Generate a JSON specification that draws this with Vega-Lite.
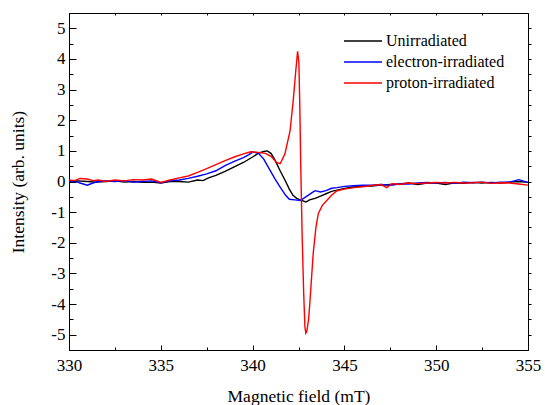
{
  "$schema": "https://vega.github.io/schema/vega-lite/v6.json",
  "width": 459,
  "height": 337,
  "autosize": {"type": "none"},
  "padding": {"left": 69, "top": 13, "right": 17, "bottom": 55},
  "config": {
    "view": {"stroke": "black", "strokeWidth": 1},
    "font": "Liberation Serif",
    "axis": {
      "labelFont": "Liberation Serif", "titleFont": "Liberation Serif",
      "labelFontSize": 17, "titleFontSize": 17.5, "titleFontWeight": "normal",
      "labelColor": "black", "titleColor": "black", "tickColor": "black", "domainColor": "black",
      "grid": false, "labelFlush": false, "labelOverlap": false, "tickWidth": 1
    }
  },
  "datasets": {
    "spec": [
      {"field": 330.0, "intensity": 0.0, "sample": "Unirradiated"},
      {"field": 330.5, "intensity": 0.02, "sample": "Unirradiated"},
      {"field": 331.0, "intensity": 0.0, "sample": "Unirradiated"},
      {"field": 331.5, "intensity": -0.02, "sample": "Unirradiated"},
      {"field": 332.0, "intensity": 0.0, "sample": "Unirradiated"},
      {"field": 332.5, "intensity": 0.02, "sample": "Unirradiated"},
      {"field": 333.0, "intensity": -0.02, "sample": "Unirradiated"},
      {"field": 333.5, "intensity": 0.0, "sample": "Unirradiated"},
      {"field": 334.0, "intensity": -0.03, "sample": "Unirradiated"},
      {"field": 334.5, "intensity": -0.02, "sample": "Unirradiated"},
      {"field": 335.0, "intensity": -0.05, "sample": "Unirradiated"},
      {"field": 335.5, "intensity": 0.0, "sample": "Unirradiated"},
      {"field": 336.0, "intensity": 0.0, "sample": "Unirradiated"},
      {"field": 336.5, "intensity": -0.02, "sample": "Unirradiated"},
      {"field": 337.0, "intensity": 0.05, "sample": "Unirradiated"},
      {"field": 337.3, "intensity": 0.03, "sample": "Unirradiated"},
      {"field": 337.6, "intensity": 0.12, "sample": "Unirradiated"},
      {"field": 338.0, "intensity": 0.2, "sample": "Unirradiated"},
      {"field": 338.5, "intensity": 0.33, "sample": "Unirradiated"},
      {"field": 339.0, "intensity": 0.48, "sample": "Unirradiated"},
      {"field": 339.5, "intensity": 0.62, "sample": "Unirradiated"},
      {"field": 340.0, "intensity": 0.8, "sample": "Unirradiated"},
      {"field": 340.3, "intensity": 0.92, "sample": "Unirradiated"},
      {"field": 340.6, "intensity": 0.98, "sample": "Unirradiated"},
      {"field": 340.8, "intensity": 1.0, "sample": "Unirradiated"},
      {"field": 341.0, "intensity": 0.92, "sample": "Unirradiated"},
      {"field": 341.2, "intensity": 0.72, "sample": "Unirradiated"},
      {"field": 341.5, "intensity": 0.35, "sample": "Unirradiated"},
      {"field": 341.8, "intensity": 0.0, "sample": "Unirradiated"},
      {"field": 342.0, "intensity": -0.25, "sample": "Unirradiated"},
      {"field": 342.2, "intensity": -0.45, "sample": "Unirradiated"},
      {"field": 342.4, "intensity": -0.55, "sample": "Unirradiated"},
      {"field": 342.6, "intensity": -0.6, "sample": "Unirradiated"},
      {"field": 342.9, "intensity": -0.67, "sample": "Unirradiated"},
      {"field": 343.1, "intensity": -0.6, "sample": "Unirradiated"},
      {"field": 343.4, "intensity": -0.55, "sample": "Unirradiated"},
      {"field": 343.7, "intensity": -0.48, "sample": "Unirradiated"},
      {"field": 344.0, "intensity": -0.4, "sample": "Unirradiated"},
      {"field": 344.3, "intensity": -0.32, "sample": "Unirradiated"},
      {"field": 344.6, "intensity": -0.28, "sample": "Unirradiated"},
      {"field": 345.0, "intensity": -0.23, "sample": "Unirradiated"},
      {"field": 345.5, "intensity": -0.18, "sample": "Unirradiated"},
      {"field": 346.0, "intensity": -0.15, "sample": "Unirradiated"},
      {"field": 346.5, "intensity": -0.15, "sample": "Unirradiated"},
      {"field": 347.0, "intensity": -0.12, "sample": "Unirradiated"},
      {"field": 347.5, "intensity": -0.1, "sample": "Unirradiated"},
      {"field": 348.0, "intensity": -0.08, "sample": "Unirradiated"},
      {"field": 348.5, "intensity": -0.05, "sample": "Unirradiated"},
      {"field": 349.0, "intensity": -0.1, "sample": "Unirradiated"},
      {"field": 349.5, "intensity": -0.05, "sample": "Unirradiated"},
      {"field": 350.0, "intensity": -0.05, "sample": "Unirradiated"},
      {"field": 350.5, "intensity": -0.1, "sample": "Unirradiated"},
      {"field": 351.0, "intensity": -0.04, "sample": "Unirradiated"},
      {"field": 351.5, "intensity": -0.06, "sample": "Unirradiated"},
      {"field": 352.0, "intensity": -0.03, "sample": "Unirradiated"},
      {"field": 352.5, "intensity": -0.05, "sample": "Unirradiated"},
      {"field": 353.0, "intensity": -0.03, "sample": "Unirradiated"},
      {"field": 353.5, "intensity": -0.05, "sample": "Unirradiated"},
      {"field": 354.0, "intensity": -0.02, "sample": "Unirradiated"},
      {"field": 354.5, "intensity": 0.0, "sample": "Unirradiated"},
      {"field": 355.0, "intensity": -0.03, "sample": "Unirradiated"},

      {"field": 330.0, "intensity": 0.0, "sample": "electron-irradiated"},
      {"field": 330.3, "intensity": 0.02, "sample": "electron-irradiated"},
      {"field": 330.6, "intensity": -0.05, "sample": "electron-irradiated"},
      {"field": 331.0, "intensity": -0.12, "sample": "electron-irradiated"},
      {"field": 331.3, "intensity": -0.05, "sample": "electron-irradiated"},
      {"field": 331.6, "intensity": 0.0, "sample": "electron-irradiated"},
      {"field": 332.0, "intensity": 0.02, "sample": "electron-irradiated"},
      {"field": 332.5, "intensity": 0.0, "sample": "electron-irradiated"},
      {"field": 333.0, "intensity": 0.03, "sample": "electron-irradiated"},
      {"field": 333.5, "intensity": -0.02, "sample": "electron-irradiated"},
      {"field": 334.0, "intensity": 0.0, "sample": "electron-irradiated"},
      {"field": 334.5, "intensity": 0.02, "sample": "electron-irradiated"},
      {"field": 335.0, "intensity": -0.04, "sample": "electron-irradiated"},
      {"field": 335.5, "intensity": 0.02, "sample": "electron-irradiated"},
      {"field": 336.0, "intensity": 0.05, "sample": "electron-irradiated"},
      {"field": 336.5, "intensity": 0.1, "sample": "electron-irradiated"},
      {"field": 337.0, "intensity": 0.17, "sample": "electron-irradiated"},
      {"field": 337.5, "intensity": 0.25, "sample": "electron-irradiated"},
      {"field": 338.0, "intensity": 0.35, "sample": "electron-irradiated"},
      {"field": 338.5, "intensity": 0.52, "sample": "electron-irradiated"},
      {"field": 339.0, "intensity": 0.66, "sample": "electron-irradiated"},
      {"field": 339.5, "intensity": 0.78, "sample": "electron-irradiated"},
      {"field": 339.8, "intensity": 0.88, "sample": "electron-irradiated"},
      {"field": 340.0, "intensity": 0.96, "sample": "electron-irradiated"},
      {"field": 340.3, "intensity": 0.93, "sample": "electron-irradiated"},
      {"field": 340.6, "intensity": 0.74, "sample": "electron-irradiated"},
      {"field": 340.9, "intensity": 0.42, "sample": "electron-irradiated"},
      {"field": 341.2, "intensity": 0.1, "sample": "electron-irradiated"},
      {"field": 341.5, "intensity": -0.18, "sample": "electron-irradiated"},
      {"field": 341.8, "intensity": -0.45, "sample": "electron-irradiated"},
      {"field": 342.0, "intensity": -0.58, "sample": "electron-irradiated"},
      {"field": 342.3, "intensity": -0.6, "sample": "electron-irradiated"},
      {"field": 342.6, "intensity": -0.62, "sample": "electron-irradiated"},
      {"field": 342.9, "intensity": -0.5, "sample": "electron-irradiated"},
      {"field": 343.2, "intensity": -0.38, "sample": "electron-irradiated"},
      {"field": 343.4, "intensity": -0.3, "sample": "electron-irradiated"},
      {"field": 343.7, "intensity": -0.34, "sample": "electron-irradiated"},
      {"field": 344.0, "intensity": -0.3, "sample": "electron-irradiated"},
      {"field": 344.3, "intensity": -0.22, "sample": "electron-irradiated"},
      {"field": 344.6, "intensity": -0.2, "sample": "electron-irradiated"},
      {"field": 345.0, "intensity": -0.16, "sample": "electron-irradiated"},
      {"field": 345.5, "intensity": -0.14, "sample": "electron-irradiated"},
      {"field": 346.0, "intensity": -0.12, "sample": "electron-irradiated"},
      {"field": 346.5, "intensity": -0.12, "sample": "electron-irradiated"},
      {"field": 347.0, "intensity": -0.1, "sample": "electron-irradiated"},
      {"field": 347.5, "intensity": -0.12, "sample": "electron-irradiated"},
      {"field": 348.0, "intensity": -0.08, "sample": "electron-irradiated"},
      {"field": 348.5, "intensity": -0.08, "sample": "electron-irradiated"},
      {"field": 349.0, "intensity": -0.05, "sample": "electron-irradiated"},
      {"field": 349.5, "intensity": -0.03, "sample": "electron-irradiated"},
      {"field": 350.0, "intensity": -0.05, "sample": "electron-irradiated"},
      {"field": 350.5, "intensity": -0.03, "sample": "electron-irradiated"},
      {"field": 351.0, "intensity": -0.06, "sample": "electron-irradiated"},
      {"field": 351.5, "intensity": -0.02, "sample": "electron-irradiated"},
      {"field": 352.0, "intensity": -0.04, "sample": "electron-irradiated"},
      {"field": 352.5, "intensity": -0.02, "sample": "electron-irradiated"},
      {"field": 353.0, "intensity": -0.05, "sample": "electron-irradiated"},
      {"field": 353.5, "intensity": -0.02, "sample": "electron-irradiated"},
      {"field": 354.0, "intensity": -0.02, "sample": "electron-irradiated"},
      {"field": 354.5, "intensity": 0.06, "sample": "electron-irradiated"},
      {"field": 355.0, "intensity": -0.03, "sample": "electron-irradiated"},

      {"field": 330.0, "intensity": 0.05, "sample": "proton-irradiated"},
      {"field": 330.3, "intensity": 0.03, "sample": "proton-irradiated"},
      {"field": 330.6, "intensity": 0.1, "sample": "proton-irradiated"},
      {"field": 331.0, "intensity": 0.08, "sample": "proton-irradiated"},
      {"field": 331.3, "intensity": 0.03, "sample": "proton-irradiated"},
      {"field": 331.6, "intensity": 0.05, "sample": "proton-irradiated"},
      {"field": 332.0, "intensity": 0.0, "sample": "proton-irradiated"},
      {"field": 332.5, "intensity": 0.05, "sample": "proton-irradiated"},
      {"field": 333.0, "intensity": 0.02, "sample": "proton-irradiated"},
      {"field": 333.5, "intensity": 0.06, "sample": "proton-irradiated"},
      {"field": 334.0, "intensity": 0.05, "sample": "proton-irradiated"},
      {"field": 334.5, "intensity": 0.08, "sample": "proton-irradiated"},
      {"field": 335.0, "intensity": -0.03, "sample": "proton-irradiated"},
      {"field": 335.5, "intensity": 0.05, "sample": "proton-irradiated"},
      {"field": 336.0, "intensity": 0.12, "sample": "proton-irradiated"},
      {"field": 336.5, "intensity": 0.18, "sample": "proton-irradiated"},
      {"field": 337.0, "intensity": 0.3, "sample": "proton-irradiated"},
      {"field": 337.5, "intensity": 0.42, "sample": "proton-irradiated"},
      {"field": 338.0, "intensity": 0.55, "sample": "proton-irradiated"},
      {"field": 338.5, "intensity": 0.68, "sample": "proton-irradiated"},
      {"field": 339.0, "intensity": 0.8, "sample": "proton-irradiated"},
      {"field": 339.5, "intensity": 0.9, "sample": "proton-irradiated"},
      {"field": 339.9, "intensity": 0.97, "sample": "proton-irradiated"},
      {"field": 340.3, "intensity": 0.95, "sample": "proton-irradiated"},
      {"field": 340.7, "intensity": 0.92, "sample": "proton-irradiated"},
      {"field": 341.0, "intensity": 0.82, "sample": "proton-irradiated"},
      {"field": 341.3, "intensity": 0.62, "sample": "proton-irradiated"},
      {"field": 341.5, "intensity": 0.58, "sample": "proton-irradiated"},
      {"field": 341.76, "intensity": 0.9, "sample": "proton-irradiated"},
      {"field": 342.04, "intensity": 1.65, "sample": "proton-irradiated"},
      {"field": 342.21, "intensity": 2.63, "sample": "proton-irradiated"},
      {"field": 342.35, "intensity": 3.6, "sample": "proton-irradiated"},
      {"field": 342.45, "intensity": 4.25, "sample": "proton-irradiated"},
      {"field": 342.52, "intensity": 3.9, "sample": "proton-irradiated"},
      {"field": 342.57, "intensity": 2.5, "sample": "proton-irradiated"},
      {"field": 342.62, "intensity": 0.6, "sample": "proton-irradiated"},
      {"field": 342.7, "intensity": -1.8, "sample": "proton-irradiated"},
      {"field": 342.78, "intensity": -3.6, "sample": "proton-irradiated"},
      {"field": 342.85, "intensity": -4.75, "sample": "proton-irradiated"},
      {"field": 342.9, "intensity": -4.95, "sample": "proton-irradiated"},
      {"field": 342.95, "intensity": -4.9, "sample": "proton-irradiated"},
      {"field": 343.05, "intensity": -4.5, "sample": "proton-irradiated"},
      {"field": 343.13, "intensity": -3.86, "sample": "proton-irradiated"},
      {"field": 343.3, "intensity": -2.35, "sample": "proton-irradiated"},
      {"field": 343.45, "intensity": -1.5, "sample": "proton-irradiated"},
      {"field": 343.58, "intensity": -1.04, "sample": "proton-irradiated"},
      {"field": 343.8, "intensity": -0.78, "sample": "proton-irradiated"},
      {"field": 344.04, "intensity": -0.62, "sample": "proton-irradiated"},
      {"field": 344.3, "intensity": -0.45, "sample": "proton-irradiated"},
      {"field": 344.6, "intensity": -0.3, "sample": "proton-irradiated"},
      {"field": 345.0, "intensity": -0.25, "sample": "proton-irradiated"},
      {"field": 345.5, "intensity": -0.2, "sample": "proton-irradiated"},
      {"field": 346.0, "intensity": -0.17, "sample": "proton-irradiated"},
      {"field": 346.5, "intensity": -0.13, "sample": "proton-irradiated"},
      {"field": 347.0, "intensity": -0.1, "sample": "proton-irradiated"},
      {"field": 347.3, "intensity": -0.2, "sample": "proton-irradiated"},
      {"field": 347.6, "intensity": -0.07, "sample": "proton-irradiated"},
      {"field": 348.0, "intensity": -0.1, "sample": "proton-irradiated"},
      {"field": 348.5, "intensity": -0.05, "sample": "proton-irradiated"},
      {"field": 349.0, "intensity": -0.07, "sample": "proton-irradiated"},
      {"field": 349.5, "intensity": -0.05, "sample": "proton-irradiated"},
      {"field": 350.0, "intensity": -0.03, "sample": "proton-irradiated"},
      {"field": 350.5, "intensity": -0.05, "sample": "proton-irradiated"},
      {"field": 351.0, "intensity": -0.03, "sample": "proton-irradiated"},
      {"field": 351.5, "intensity": -0.05, "sample": "proton-irradiated"},
      {"field": 352.0, "intensity": -0.04, "sample": "proton-irradiated"},
      {"field": 352.5, "intensity": -0.02, "sample": "proton-irradiated"},
      {"field": 353.0, "intensity": -0.06, "sample": "proton-irradiated"},
      {"field": 353.5, "intensity": -0.04, "sample": "proton-irradiated"},
      {"field": 354.0, "intensity": -0.05, "sample": "proton-irradiated"},
      {"field": 354.5, "intensity": -0.08, "sample": "proton-irradiated"},
      {"field": 355.0, "intensity": -0.12, "sample": "proton-irradiated"}
    ]
  },
  "data": {"name": "spec"},
  "layer": [
    {
      "mark": {"type": "line", "strokeWidth": 1.4, "clip": true},
      "encoding": {
        "x": {
          "field": "field", "type": "quantitative",
          "scale": {"domain": [330, 355], "nice": false, "zero": false},
          "axis": {
            "orient": "bottom", "title": "Magnetic field (mT)",
            "values": [330, 332.5, 335, 337.5, 340, 342.5, 345, 347.5, 350, 352.5, 355],
            "labelExpr": "datum.value % 5 === 0 ? '' + datum.value : ''",
            "tickSize": {"condition": {"test": "datum.value % 5 === 0", "value": -5}, "value": -3},
            "labelPadding": 12, "titlePadding": 12
          }
        },
        "y": {
          "field": "intensity", "type": "quantitative",
          "scale": {"domain": [-5.5, 5.5], "nice": false, "zero": false},
          "axis": {
            "orient": "left", "title": "Intensity (arb. units)",
            "values": [-5, -4.5, -4, -3.5, -3, -2.5, -2, -1.5, -1, -0.5, 0, 0.5, 1, 1.5, 2, 2.5, 3, 3.5, 4, 4.5, 5],
            "labelExpr": "datum.value % 1 === 0 ? '' + datum.value : ''",
            "tickSize": {"condition": {"test": "datum.value % 1 === 0", "value": -7}, "value": -4},
            "labelPadding": 11, "titlePadding": 23
          }
        },
        "color": {
          "field": "sample", "type": "nominal",
          "scale": {"domain": ["Unirradiated", "electron-irradiated", "proton-irradiated"], "range": ["#000000", "#0000ff", "#ff0000"]},
          "legend": {
            "orient": "none", "legendX": 274, "legendY": 20, "title": null,
            "symbolType": "stroke", "symbolSize": 1444, "symbolStrokeWidth": 1.5,
            "labelFont": "Liberation Serif", "labelFontSize": 16, "labelColor": "black",
            "labelOffset": 3, "rowPadding": 5, "clipHeight": 16
          }
        }
      }
    },
    {
      "mark": {"type": "point", "opacity": 0},
      "encoding": {
        "x": {
          "field": "field", "type": "quantitative",
          "axis": {"orient": "top", "title": null, "labels": false, "domain": false,
            "values": [330, 332.5, 335, 337.5, 340, 342.5, 345, 347.5, 350, 352.5, 355], "tickSize": -2}
        },
        "y": {
          "field": "intensity", "type": "quantitative",
          "axis": {"orient": "right", "title": null, "labels": false, "domain": false,
            "values": [-5, -4.5, -4, -3.5, -3, -2.5, -2, -1.5, -1, -0.5, 0, 0.5, 1, 1.5, 2, 2.5, 3, 3.5, 4, 4.5, 5], "tickSize": 3}
        }
      }
    }
  ],
  "resolve": {"axis": {"x": "independent", "y": "independent"}}
}
